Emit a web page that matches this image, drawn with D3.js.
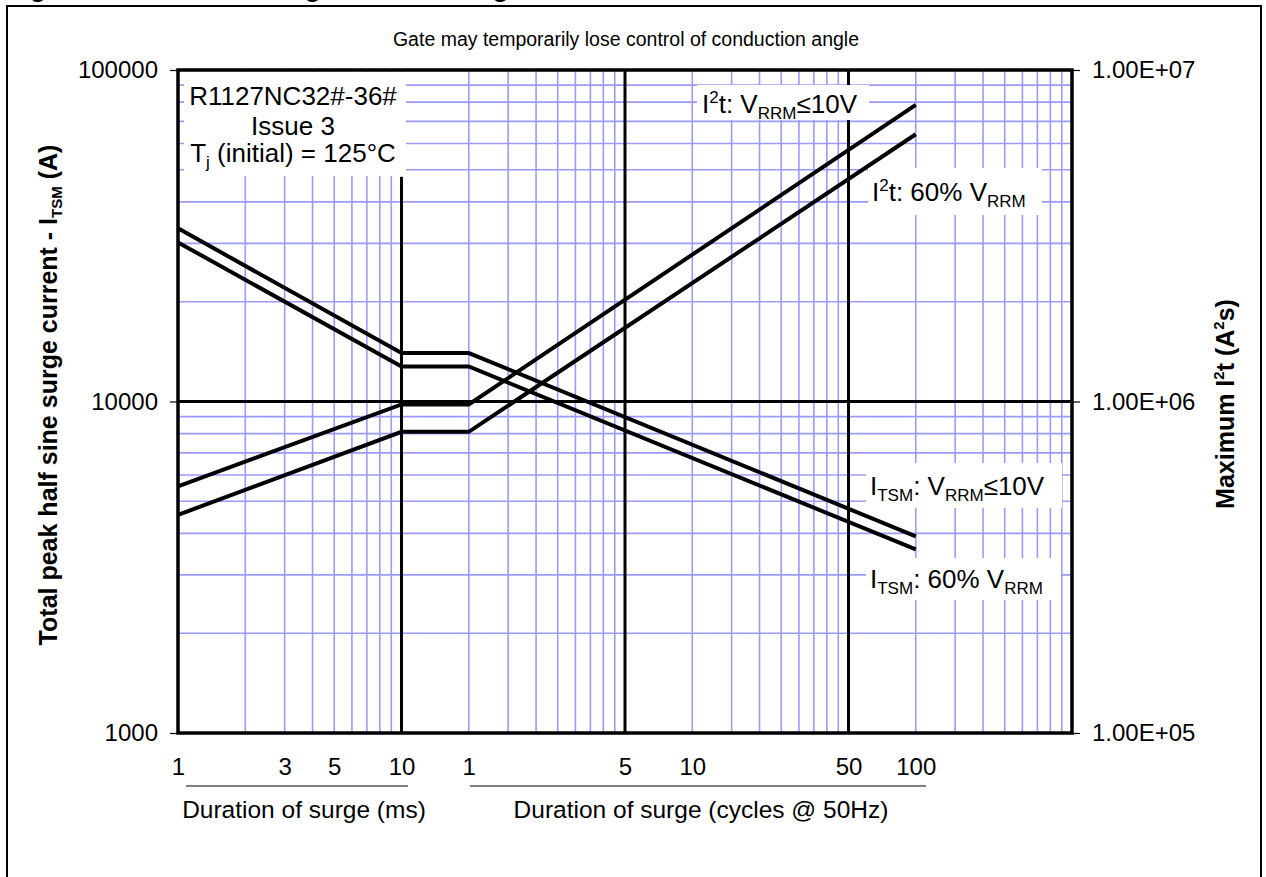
<!DOCTYPE html>
<html>
<head>
<meta charset="utf-8">
<script src="https://cdn.jsdelivr.net/npm/d3@7"></script>
<style>
  body { margin: 0; background: #fff; }
  text { font-family: Arial, 'Liberation Sans', sans-serif; fill: #000; }
</style>
</head>
<body>
<div id="chart"></div>
<script>
// surge duration in ms (1 cycle @ 50Hz = 20 ms)
const durationMs = [1, 10, 20, 2000]
const itsmLow = [33300, 14000, 14000, 3920]    // I_TSM, V_RRM <= 10V
const itsm60 = [30200, 12750, 12750, 3580]     // I_TSM, 60% V_RRM
const i2tLow = [5.55e5, 9.8e5, 9.8e5, 7.85e6]  // I2t, V_RRM <= 10V
const i2t60 = [4.55e5, 8.1e5, 8.1e5, 6.4e6]    // I2t, 60% V_RRM

const msTicks = [1, 3, 5, 10]
const cycleTicks = [1, 5, 10, 50, 100]
const leftTicks = [1000, 10000, 100000]
const rightTicks = [1e5, 1e6, 1e7]
const heavyX = [10, 100, 1000]
const heavyY = [10000]

const W = 1266, H = 877
const margin = { top: 70, left: 178, right: 194, bottom: 144 }
const width = W - margin.left - margin.right
const height = H - margin.top - margin.bottom

const svg = d3.select('#chart').append('svg')
  .attr('width', W).attr('height', H)

// outer frame + clipped figure title
svg.append('rect')
  .attr('x', 7).attr('y', 6).attr('width', 1254).attr('height', 900)
  .attr('fill', 'none').attr('stroke', '#000').attr('stroke-width', 2)

svg.append('text')
  .attr('x', 7).attr('y', -3.5)
  .style('font-size', '26px').style('font-weight', 'bold')
  .text('Figure 9 – Maximum surge and I²t Ratings')

const g = svg.append('g')
  .attr('transform', 'translate(' + margin.left + ',' + margin.top + ')')

const x = d3.scaleLog().domain([1, 10000]).range([0, width])
const yL = d3.scaleLog().domain([1000, 100000]).range([height, 0])
const yR = d3.scaleLog().domain([1e5, 1e7]).range([height, 0])

// minor grid
g.append('g').selectAll('line')
  .data(x.ticks())
  .enter().append('line')
  .attr('x1', d => x(d)).attr('x2', d => x(d))
  .attr('y1', 0).attr('y2', height)
  .attr('stroke', '#9b9bff').attr('stroke-width', 1.6)

g.append('g').selectAll('line')
  .data(yL.ticks())
  .enter().append('line')
  .attr('x1', 0).attr('x2', width)
  .attr('y1', d => yL(d)).attr('y2', d => yL(d))
  .attr('stroke', '#9b9bff').attr('stroke-width', 1.6)

// label boxes hide the grid
const boxes = [
  [184, 72, 222, 104],
  [697, 85, 172, 35],
  [868, 168, 174, 47],
  [866, 463, 196, 45],
  [866, 558, 195, 42]
]
svg.append('g').selectAll('rect')
  .data(boxes)
  .enter().append('rect')
  .attr('x', d => d[0]).attr('y', d => d[1])
  .attr('width', d => d[2]).attr('height', d => d[3])
  .attr('fill', '#fff')

// heavy decade lines
g.append('g').selectAll('line')
  .data(heavyX)
  .enter().append('line')
  .attr('x1', d => x(d)).attr('x2', d => x(d))
  .attr('y1', d => d === 10 ? 107 : 0).attr('y2', height)
  .attr('stroke', '#000').attr('stroke-width', 3)
g.append('g').selectAll('line')
  .data(heavyY)
  .enter().append('line')
  .attr('x1', 0).attr('x2', width)
  .attr('y1', d => yL(d)).attr('y2', d => yL(d))
  .attr('stroke', '#000').attr('stroke-width', 3)

// curves
const lineL = d3.line().x((d, i) => x(durationMs[i])).y(d => yL(d))
const lineR = d3.line().x((d, i) => x(durationMs[i])).y(d => yR(d))
const curves = g.append('g').attr('fill', 'none').attr('stroke', '#000')
  .attr('stroke-width', 4)
curves.append('path').attr('d', lineL(itsmLow))
curves.append('path').attr('d', lineL(itsm60))
curves.append('path').attr('d', lineR(i2tLow))
curves.append('path').attr('d', lineR(i2t60))

// plot border
g.append('rect')
  .attr('width', width).attr('height', height)
  .attr('fill', 'none').attr('stroke', '#000').attr('stroke-width', 3.5)

// axes
const yAxisL = d3.axisLeft(yL).tickValues(leftTicks).tickSize(8).tickPadding(12)
  .tickFormat(d3.format('d'))
const yAxisR = d3.axisRight(yR).tickValues(rightTicks).tickSize(8).tickPadding(12)
  .tickFormat(d => d3.format('.2e')(d).toUpperCase().replace('E+', 'E+0'))

const ga = g.append('g').call(yAxisL)
const gr = g.append('g').attr('transform', 'translate(' + width + ',0)').call(yAxisR)
;[ga, gr].forEach(a => {
  a.select('.domain').remove()
  a.selectAll('text').style('font-size', '24px').attr('font-family', null)
  a.selectAll('line').attr('stroke-width', 1.2)
})

const xMs = d3.axisBottom(x).tickValues(msTicks).tickSize(0).tickPadding(25)
  .tickFormat(d3.format('d'))
const xCyc = d3.axisBottom(x).tickValues(cycleTicks.map(c => c * 20))
  .tickSize(0).tickPadding(25).tickFormat(d => d / 20)
;[xMs, xCyc].forEach(ax => {
  const a = g.append('g').attr('transform', 'translate(0,' + height + ')').call(ax)
  a.select('.domain').remove()
  a.selectAll('text').style('font-size', '24px').attr('font-family', null)
})

// x footers
svg.append('line').attr('x1', 186).attr('x2', 408).attr('y1', 786).attr('y2', 786)
  .attr('stroke', '#000').attr('stroke-width', 1.2)
svg.append('line').attr('x1', 470).attr('x2', 926).attr('y1', 786).attr('y2', 786)
  .attr('stroke', '#000').attr('stroke-width', 1.2)
svg.append('text').attr('x', 304).attr('y', 818).attr('text-anchor', 'middle')
  .style('font-size', '24.5px').text('Duration of surge (ms)')
svg.append('text').attr('x', 701).attr('y', 818).attr('text-anchor', 'middle')
  .style('font-size', '24.5px').text('Duration of surge (cycles @ 50Hz)')

// axis titles
const lt = svg.append('text')
  .attr('transform', 'translate(57,395) rotate(-90)')
  .attr('text-anchor', 'middle')
  .style('font-size', '25px').style('font-weight', 'bold')
lt.append('tspan').text('Total peak half sine surge current - I')
lt.append('tspan').attr('dy', 5).style('font-size', '15px').text('TSM')
lt.append('tspan').attr('dy', -5).text(' (A)')

const rt = svg.append('text')
  .attr('transform', 'translate(1234,404) rotate(-90)')
  .attr('text-anchor', 'middle')
  .style('font-size', '25px').style('font-weight', 'bold')
rt.append('tspan').text('Maximum I')
rt.append('tspan').attr('dy', -10).style('font-size', '15px').text('2')
rt.append('tspan').attr('dy', 10).text('t (A')
rt.append('tspan').attr('dy', -10).style('font-size', '15px').text('2')
rt.append('tspan').attr('dy', 10).text('s)')

// header note
svg.append('text').attr('x', 626).attr('y', 46).attr('text-anchor', 'middle')
  .style('font-size', '19.5px').text('Gate may temporarily lose control of conduction angle')

// device label
const info = svg.append('text').attr('text-anchor', 'middle').style('font-size', '26px')
info.append('tspan').attr('x', 293).attr('y', 105).text('R1127NC32#-36#')
info.append('tspan').attr('x', 293).attr('y', 135).text('Issue 3')
const l3 = svg.append('text').attr('text-anchor', 'middle').attr('x', 293).attr('y', 162)
  .style('font-size', '26px')
l3.append('tspan').text('T')
l3.append('tspan').attr('dy', 6).style('font-size', '17px').text('j')
l3.append('tspan').attr('dy', -6).text(' (initial) = 125°C')

// series labels
function seriesLabel(xp, yp, parts) {
  const t = svg.append('text').attr('x', xp).attr('y', yp).style('font-size', '26px')
  let shift = 0
  parts.forEach(p => {
    const s = t.append('tspan').text(p[0]).attr('dy', p[1] - shift)
    if (p[1] !== 0) s.style('font-size', '17px')
    shift = p[1]
  })
}
seriesLabel(702, 113, [['I', 0], ['2', -10], ['t: V', 0], ['RRM', 6], ['≤10V', 0]])
seriesLabel(872, 201, [['I', 0], ['2', -10], ['t: 60% V', 0], ['RRM', 6]])
seriesLabel(870, 495, [['I', 0], ['TSM', 6], [': V', 0], ['RRM', 6], ['≤10V', 0]])
seriesLabel(870, 588, [['I', 0], ['TSM', 6], [': 60% V', 0], ['RRM', 6]])
</script>
</body>
</html>
